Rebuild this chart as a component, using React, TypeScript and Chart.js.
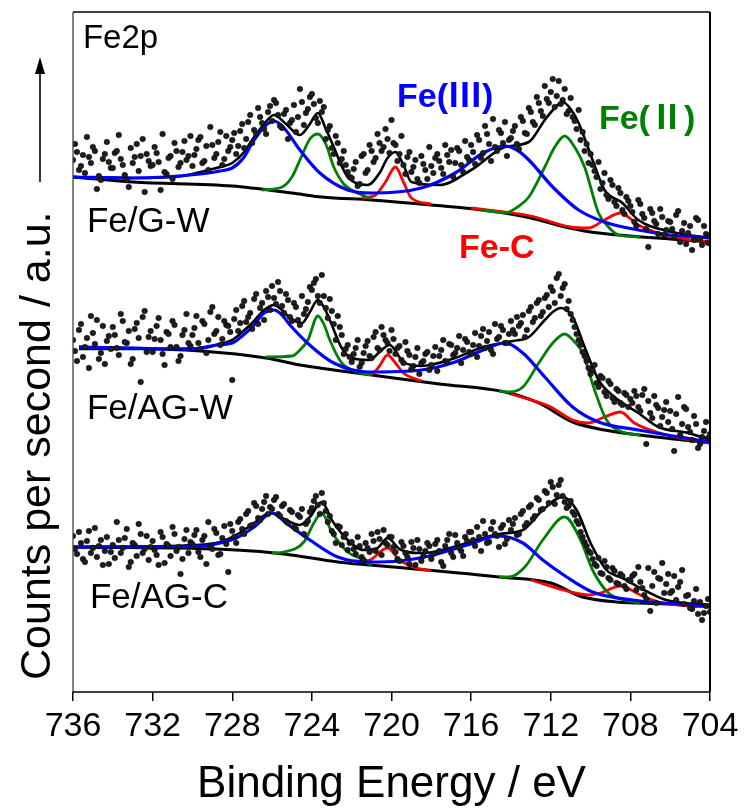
import React, { useEffect, useRef } from "react";
import { Chart, registerables } from "chart.js";

Chart.register(...registerables);

// ---------- axis ----------
const X_MIN = 704;
const X_MAX = 736;
const X_TICK_STEP = 4;
const Y_MIN = 0;
const Y_MAX = 680;
const X_TITLE = "Binding Energy / eV";
const Y_TITLE = "Counts per second / a.u.";

// ---------- measured points ----------
// set A: 736.0, 735.8, ... 704.0 ; set B: 735.9, 735.7, ... 704.1
const DOT_START_A = 736;
const DOT_START_B = 735.9;
const DOT_STEP = 0.2;

const s1DotsA = [
  532, 540, 526, 519, 535, 545, 503, 512, 538, 530,
  524, 541, 533, 517, 505, 529, 548, 536, 500, 531,
  527, 539, 502, 520, 534, 513, 541, 529, 551, 536,
  526, 543, 555, 531, 522, 547, 538, 560, 533, 541,
  552, 538, 561, 544, 570, 549, 558, 575, 563, 580,
  571, 589, 566, 578, 553, 572, 560, 603, 567, 583,
  598, 574, 591, 585, 562, 544, 556, 529, 541, 520,
  514, 530, 508, 538, 522, 541, 534, 549, 545, 553,
  572, 547, 538, 527, 535, 520, 532, 509, 528, 513,
  526, 534, 531, 518, 537, 542, 529, 541, 520, 535,
  547, 528, 552, 539, 558, 531, 545, 562, 549, 536,
  554, 566, 543, 571, 558, 580, 567, 589, 576, 593,
  600, 585, 611, 592, 578, 594, 571, 582, 560, 548,
  538, 521, 530, 509, 497, 512, 490, 504, 482, 495,
  486, 470, 492, 478, 463, 483, 471, 458, 475, 462,
  470, 455, 481, 461, 448, 466, 452, 472, 447, 458,
  456,
];
const s1DotsB = [
  548, 522, 537, 555, 529, 541, 516, 533, 550, 524,
  539, 557, 527, 512, 544, 535, 521, 553, 538, 526,
  545, 530, 558, 518, 536, 549, 525, 540, 532, 556,
  537, 552, 529, 546, 565, 534, 550, 527, 556, 545,
  559, 546, 568, 553, 577, 562, 584, 569, 558, 586,
  592, 577, 564, 582, 569, 587, 575, 590, 579, 595,
  588, 569, 580, 553, 566, 538, 549, 533, 527, 515,
  523, 506, 536, 519, 547, 530, 558, 541, 563, 539,
  549, 531, 556, 518, 540, 525, 513, 536, 522, 545,
  519, 538, 524, 547, 530, 515, 544, 527, 551, 532,
  540, 557, 534, 566, 548, 573, 541, 559, 570, 552,
  561, 548, 575, 559, 584, 570, 595, 581, 606, 589,
  613, 596, 588, 603, 581, 575, 563, 552, 541, 529,
  527, 515, 503, 519, 493, 507, 486, 499, 478, 491,
  480, 466, 488, 474, 445, 479, 468, 483, 457, 471,
  463, 477, 450, 469, 459, 442, 474, 453, 466, 449,
];

const s2DotsA = [
  352, 331, 368, 345, 324, 359, 372, 339, 328, 356,
  365, 344, 378, 350, 361, 333, 369, 310, 381, 355,
  340, 366, 352, 327, 358, 371, 345, 336, 362, 349,
  357, 376, 343, 368, 352, 385, 361, 347, 371, 366,
  312, 382, 369, 391, 375, 363, 398, 384, 372, 395,
  406, 388, 401, 379, 392, 371, 385, 367, 378, 390,
  402, 413, 389, 396, 374, 381, 352, 365, 338, 347,
  330, 344, 325, 339, 351, 334, 360, 342, 357, 349,
  362, 338, 346, 329, 341, 323, 335, 318, 331, 340,
  327, 345, 336, 352, 330, 347, 339, 356, 342, 350,
  338, 359, 346, 363, 351, 342, 368, 355, 362, 349,
  371, 358, 366, 377, 362, 385, 374, 392, 380, 397,
  405, 389, 418, 404, 383, 378, 365, 352, 340, 331,
  318, 327, 305, 314, 296, 308, 290, 301, 287, 297,
  293, 301, 285, 297, 248, 279, 296, 284, 275, 290,
  281, 241, 295, 268, 283, 260, 276, 244, 255, 270,
  258,
];
const s2DotsB = [
  341, 362, 335, 354, 376, 348, 333, 366, 351, 343,
  357, 337, 371, 349, 328, 363, 354, 375, 340, 361,
  353, 374, 338, 360, 345, 367, 331, 357, 378, 346,
  364, 349, 371, 339, 380, 358, 375, 353, 367, 360,
  373, 361, 386, 370, 379, 393, 368, 389, 401, 382,
  394, 410, 386, 398, 375, 389, 372, 396, 383, 405,
  409, 396, 417, 384, 393, 368, 376, 357, 343, 335,
  338, 352, 329, 346, 336, 355, 344, 365, 352, 341,
  353, 344, 332, 350, 337, 326, 344, 329, 338, 322,
  336, 321, 342, 331, 348, 337, 344, 329, 353, 340,
  347, 335, 356, 344, 360, 338, 353, 366, 349, 358,
  362, 375, 369, 355, 381, 370, 389, 376, 394, 385,
  401, 414, 396, 408, 391, 372, 358, 347, 336, 324,
  322, 309, 316, 300, 311, 294, 303, 289, 299, 285,
  289, 296, 281, 303, 291, 274, 287, 266, 282, 270,
  263, 278, 257, 285, 265, 252, 268, 248, 261, 254,
];

const s3DotsA = [
  156, 138, 149, 130, 161, 144, 135, 152, 141, 128,
  147, 170, 139, 154, 125, 149, 136, 158, 143, 132,
  151, 137, 160, 129, 146, 165, 141, 118, 153, 139,
  148, 162, 135, 156, 170, 143, 159, 138, 166, 120,
  161, 149, 173, 158, 181, 167, 186, 172, 190, 178,
  183, 195, 176, 188, 169, 180, 163, 175, 158, 171,
  184, 196, 178, 189, 170, 161, 149, 165, 155, 142,
  150, 138, 146, 132, 144, 158, 141, 153, 162, 147,
  155, 140, 131, 146, 135, 150, 127, 143, 136, 149,
  133, 148, 141, 126, 152, 139, 157, 144, 136, 151,
  160, 146, 155, 171, 149, 163, 158, 145, 167, 153,
  162, 174, 158, 181, 169, 187, 176, 192, 183, 199,
  210, 188, 207, 196, 184, 191, 177, 168, 155, 146,
  139, 128, 134, 118, 125, 112, 121, 108, 116, 103,
  111, 118, 125, 104, 93, 81, 120, 114, 129, 108,
  99, 116, 105, 122, 96, 84, 91, 78, 72, 86,
  80,
];
const s3DotsB = [
  143, 160, 133, 151, 139, 164, 146, 127, 155, 140,
  134, 152, 144, 163, 130, 147, 168, 139, 156, 145,
  142, 127, 155, 148, 136, 158, 145, 133, 162, 150,
  157, 140, 152, 128, 145, 163, 137, 154, 148, 168,
  155, 170, 163, 178, 166, 189, 174, 183, 196, 185,
  192, 178, 186, 171, 182, 165, 177, 183, 168, 180,
  191, 187, 199, 181, 176, 158, 166, 147, 158, 149,
  143, 155, 135, 149, 140, 151, 160, 137, 149, 155,
  145, 133, 150, 139, 128, 144, 152, 131, 141, 146,
  138, 152, 130, 146, 158, 135, 149, 141, 155, 160,
  152, 165, 141, 158, 150, 170, 156, 164, 148, 172,
  168, 157, 178, 166, 185, 173, 194, 182, 201, 189,
  205, 197, 212, 190, 186, 180, 171, 160, 150, 141,
  133, 126, 119, 131, 114, 124, 109, 118, 106, 112,
  116, 102, 110, 97, 124, 106, 89, 113, 99, 118,
  101, 92, 110, 88, 97, 83, 103, 90, 79, 93,
];

// ---------- fitted curves: [binding energy, counts] ----------
// Fe/G-W
const s1Background = [[736,515],[733,510],[728,506],[725,499],[723.5,495],[721,492],[718,487],[715,481],[713,474],[711.5,466],[710,460],[708,456],[706,453],[704,450]];
const s1Envelope = [[736,515],[733,514],[730.5,516],[729.6,520],[728.6,525],[728,529],[727.4,540],[727,552],[726.4,568],[725.9,577],[725.3,568],[724.6,557],[724.1,568],[723.7,579],[723.3,563],[722.9,545],[722.5,526],[722.2,515],[721.2,507],[720.6,519],[720.2,534],[719.8,540],[719.4,527],[719,510],[717.6,507],[716,522],[714.3,545],[713.1,550],[712.3,572],[711.8,584],[711.4,590],[711,583],[710.6,569],[709.9,532],[709.3,502],[708.4,489],[707.6,472],[705.9,460],[704,454]];
const s1FeIII = [[736,515],[733,514],[729.6,518],[728.6,521],[728,524],[727.4,535],[727,549],[726.4,565],[725.9,571],[725.4,564],[724.6,542],[723.6,519],[722.2,502],[721,499],[718.5,504],[716.8,519],[715.4,539],[714.3,546],[713.7,542],[713.1,532],[711.9,505],[710.6,482],[709.3,470],[707.6,462],[706,457],[704,454]];
const s1FeIIa = [[726.5,502],[725.5,505],[725,515],[724.6,532],[724.1,553],[723.7,558],[723.3,548],[722.9,525],[722.4,508],[722,502],[721,493]];
const s1FeIIb = [[715.5,482],[714.3,479],[713.6,486],[713.1,495],[712.3,525],[711.8,545],[711.3,556],[710.8,545],[710.3,525],[709.6,479],[709.1,465],[708.6,457],[707.5,455]];
const s1FeCa = [[721.5,494],[720.8,497],[720.3,510],[719.8,525],[719.4,510],[719,494],[718,488]];
const s1FeCb = [[716,484],[713,476],[711,465],[710.1,464],[709.3,472],[708.5,479],[707.6,467],[706.6,459],[705,452],[704,450]];

// Fe/AG-W
const s2Background = [[735.7,345],[729.6,341],[726.3,334],[724.6,327],[722.9,322],[721,317],[717.6,308],[714.3,300],[712.6,289],[710.9,270],[709.3,262],[706.7,255],[704,249]];
const s2Envelope = [[735.7,343],[732,343],[729.5,344],[728.8,347],[728,352],[727.5,360],[727,369],[726.4,382],[725.9,387],[725.5,382],[725.1,374],[724.5,369],[724.1,380],[723.7,392],[723.4,385],[723.1,372],[722.5,344],[722,334],[721.1,332],[720.6,340],[720.1,347],[719.4,330],[718.5,326],[716.8,334],[715.4,345],[713.9,351],[713.1,355],[712.3,372],[711.9,380],[711.5,384],[710.9,375],[710.3,345],[709.6,312],[708.8,295],[707.6,279],[706.6,265],[705.1,259],[704,252]];
const s2FeIII = [[735.7,345],[730,343],[728.8,347],[728,349],[727.5,356],[727,365],[726.4,379],[725.9,382],[725.5,377],[725.1,367],[724,345],[722.9,329],[721.2,320],[718.5,322],[716.8,330],[715.4,342],[714.3,349],[713.4,339],[712.3,315],[710.9,285],[709.6,270],[707.6,262],[704,250]];
const s2FeIIa = [[726.3,335],[725,336],[724.6,342],[724.2,352],[723.7,376],[723.4,368],[723.1,352],[722.5,329],[721.7,320],[721,317]];
const s2FeIIb = [[714.6,301],[714.1,300],[713.4,305],[712.6,329],[711.9,349],[711.3,358],[710.8,350],[710.4,339],[709.8,302],[709.2,272],[708.4,260],[707.5,257]];
const s2FeCa = [[722,322],[721,318],[720.6,326],[720.2,337],[719.8,329],[719.4,319],[718.5,311]];
const s2FeCb = [[714,298],[712,285],[710.9,272],[710.1,269],[709.3,275],[708.5,280],[707.8,269],[706.7,260],[705,252],[704,249]];

// Fe/AG-C
const s3Background = [[736,145],[727.8,142],[725.4,138],[722.7,130],[721.1,127],[719.6,124.5],[714.6,115],[712,109],[710.4,95],[708.7,90],[706.2,88],[704,85]];
const s3Envelope = [[736,145],[729.8,147],[728.6,150],[727.8,157],[726.9,169],[726.1,179],[725.3,172],[724.6,167],[724.1,175],[723.5,190],[723,172],[722.2,152],[721.4,142],[720.7,144],[720.2,154],[719.6,143],[718.7,139],[717.9,140],[716.2,149],[714.6,158],[713.4,162],[712.4,182],[711.4,195],[710.7,182],[710,149],[709.2,122],[708.4,114],[707.5,104],[706.2,92],[704,87]];
const s3FeIII = [[736,145],[729.5,146],[728.6,149],[727.8,154],[726.9,165],[726,179],[725.3,169],[724.1,152],[722.7,135],[721.1,130],[719.6,131],[717.9,137],[716.2,147],[714.6,156],[713.4,149],[712.4,132],[711.2,115],[709.9,100],[707.9,92],[704,86]];
const s3FeIIa = [[726,139],[725.4,140],[724.4,150],[723.9,169],[723.5,179],[723,160],[722.2,140],[721.5,133],[721,127]];
const s3FeIIb = [[714.6,115],[714.1,115],[713.3,125],[712.4,152],[711.3,175],[710.5,152],[709.9,122],[709.1,99],[708.3,92],[707.5,89]];
const s3FeCa = [[722,130],[721.1,132],[720.2,144],[719.6,132],[718.9,125],[718,121]];
const s3FeCb = [[713,112],[711,100],[710.1,97],[709.5,99],[708.5,106],[707.5,97],[706.6,90],[705,86],[704,85]];

// ---------- annotations: [text, energy, counts] ----------
const sampleLabels: [string, number, number][] = [
  ["Fe2p", 735.5, 644],
  ["Fe/G-W", 735.3, 460],
  ["Fe/AG-W", 735.3, 273],
  ["Fe/AG-C", 735.15, 84],
];
const speciesLabels: [string, number, number, string][] = [
  ["Fe(\u2162)", 719.72, 585, "#0000ff"],
  ["Fe(\u2161)", 709.58, 563, "#008000"],
  ["Fe-C", 716.61, 434, "#ff0000"],
];

const SANS = "'Liberation Sans', Arial, 'Noto Sans CJK SC', sans-serif";

const pts = (a: number[][]) => a.map(([x, y]) => ({ x, y }));
const dotPts = (start: number, vals: number[]) =>
  vals.map((y, i) => ({ x: Math.round((start - i * DOT_STEP) * 10) / 10, y }));

const curve = (data: number[][], color: string, width: number, order: number) => ({
  data: pts(data),
  showLine: true,
  borderColor: color,
  backgroundColor: color,
  borderWidth: width,
  pointRadius: 0,
  pointHoverRadius: 0,
  cubicInterpolationMode: "monotone" as const,
  fill: false,
  order,
});

const dots = (start: number, vals: number[]) => ({
  data: dotPts(start, vals),
  showLine: false,
  pointRadius: 2.8,
  pointHoverRadius: 2.8,
  pointBackgroundColor: "#1e1e1e",
  pointBorderColor: "#000",
  pointBorderWidth: 0.5,
  order: 0,
});

const decorPlugin = {
  id: "decor",
  afterDraw(chart: any) {
    const { ctx, chartArea: ca, scales } = chart;
    const xs = scales.x;
    const ys = scales.y;
    ctx.save();
    // frame
    ctx.strokeStyle = "#000";
    ctx.lineWidth = 1.3;
    ctx.beginPath();
    ctx.moveTo(ca.left, ca.top);
    ctx.lineTo(ca.right, ca.top);
    ctx.stroke();
    ctx.lineWidth = 1.2;
    ctx.strokeStyle = "#333";
    ctx.beginPath();
    ctx.moveTo(ca.left, ca.top);
    ctx.lineTo(ca.left, ca.bottom);
    ctx.stroke();
    ctx.strokeStyle = "#000";
    ctx.lineWidth = 2;
    ctx.beginPath();
    ctx.moveTo(ca.right, ca.top);
    ctx.lineTo(ca.right, ca.bottom);
    ctx.stroke();
    ctx.lineWidth = 1.6;
    ctx.beginPath();
    ctx.moveTo(ca.left, ca.bottom);
    ctx.lineTo(ca.right, ca.bottom);
    ctx.stroke();

    // sample labels
    ctx.fillStyle = "#000";
    ctx.textAlign = "left";
    ctx.textBaseline = "alphabetic";
    sampleLabels.forEach(([t, e, v], i) => {
      ctx.font = (i === 0 ? "33px " : "35px ") + SANS;
      ctx.fillText(t, xs.getPixelForValue(e), ys.getPixelForValue(v));
    });
    speciesLabels.forEach(([t, e, v, c]) => {
      ctx.font = "bold 34px " + SANS;
      ctx.fillStyle = c;
      ctx.fillText(t, xs.getPixelForValue(e), ys.getPixelForValue(v));
    });

    // y title with arrow
    ctx.fillStyle = "#000";
    ctx.save();
    ctx.translate(50, 680);
    ctx.rotate(-Math.PI / 2);
    ctx.font = "43px " + SANS;
    ctx.fillText(Y_TITLE, 0, 0);
    ctx.restore();
    ctx.strokeStyle = "#000";
    ctx.lineWidth = 1.6;
    ctx.beginPath();
    ctx.moveTo(40, 182);
    ctx.lineTo(40, 70);
    ctx.stroke();
    ctx.beginPath();
    ctx.moveTo(40, 57);
    ctx.lineTo(35, 74);
    ctx.lineTo(45, 74);
    ctx.closePath();
    ctx.fill();
    ctx.restore();
  },
};

export default function App() {
  const ref = useRef<HTMLCanvasElement | null>(null);
  useEffect(() => {
    if (!ref.current) return;
    const datasets: any[] = [];
    const groups = [
      [s1DotsA, s1DotsB, s1Background, s1Envelope, s1FeIII, s1FeIIa, s1FeIIb, s1FeCa, s1FeCb],
      [s2DotsA, s2DotsB, s2Background, s2Envelope, s2FeIII, s2FeIIa, s2FeIIb, s2FeCa, s2FeCb],
      [s3DotsA, s3DotsB, s3Background, s3Envelope, s3FeIII, s3FeIIa, s3FeIIb, s3FeCa, s3FeCb],
    ] as any[];
    groups.forEach(([da, db, bg, env, f3, f2a, f2b, fca, fcb]) => {
      datasets.push(dots(DOT_START_A, da));
      datasets.push(dots(DOT_START_B, db));
      datasets.push(curve(f3, "#0000ff", 3.2, 1));
      datasets.push(curve(f2a, "#008000", 2.8, 2));
      datasets.push(curve(f2b, "#008000", 2.8, 2));
      datasets.push(curve(fca, "#ff0000", 2.8, 3));
      datasets.push(curve(fcb, "#ff0000", 2.8, 3));
      datasets.push(curve(env, "#000000", 2.6, 4));
      datasets.push(curve(bg, "#000000", 3, 5));
    });
    const chart = new Chart(ref.current, {
      type: "scatter",
      data: { datasets },
      options: {
        responsive: false,
        animation: false,
        devicePixelRatio: 1,
        layout: { padding: { left: 73, right: 35, top: 12, bottom: 0 } },
        plugins: { legend: { display: false }, tooltip: { enabled: false } },
        scales: {
          x: {
            type: "linear",
            min: X_MIN,
            max: X_MAX,
            reverse: true,
            afterFit: (s: any) => {
              s.height = 119;
            },
            border: { display: false },
            grid: {
              display: true,
              drawOnChartArea: false,
              drawTicks: true,
              tickLength: 9,
              color: "#000",
              lineWidth: 1.5,
            },
            ticks: {
              stepSize: X_TICK_STEP,
              color: "#000",
              padding: 5,
              maxRotation: 0,
              font: { family: SANS, size: 34 },
            },
            title: {
              display: true,
              text: X_TITLE,
              color: "#000",
              font: { family: SANS, size: 44 },
              padding: { top: 0, bottom: 0 },
            },
          },
          y: {
            type: "linear",
            min: Y_MIN,
            max: Y_MAX,
            display: false,
          },
        },
      },
      plugins: [decorPlugin],
    });
    return () => chart.destroy();
  }, []);
  return (
    <div style={{ position: "absolute", left: 0, top: 0, width: 745, height: 811, background: "#fff" }}>
      <canvas ref={ref} width={745} height={811} style={{ display: "block" }} />
    </div>
  );
}
